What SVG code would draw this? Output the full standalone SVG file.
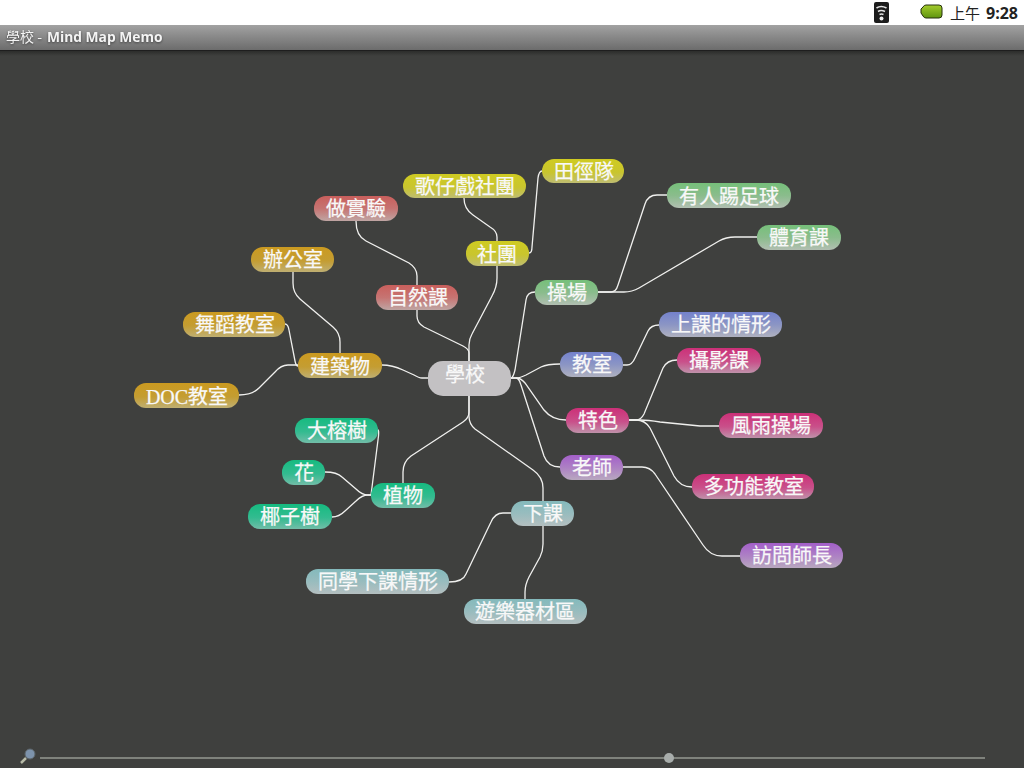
<svg xmlns="http://www.w3.org/2000/svg" width="1024" height="768" viewBox="0 0 1024 768">
<style>
text{font-family:"Noto Sans CJK TC","Noto Sans CJK SC","Liberation Sans",sans-serif}
.l{fill:#f8f8f8;font-size:20px;text-anchor:middle;stroke:#f8f8f8;stroke-width:.25}
.c path{fill:none;stroke:#f0f0ee;stroke-width:1.3}
.b{font-weight:bold;font-family:"Open Sans","Noto Sans",sans-serif}
</style>
<defs>
<linearGradient id="bar" x1="0" y1="0" x2="0" y2="1"><stop offset="0" stop-color="#a2a2a2"/><stop offset="1" stop-color="#6c6c6c"/></linearGradient>
<linearGradient id="sh" x1="0" y1="0" x2="0" y2="1"><stop offset="0" stop-color="#2c2d2b"/><stop offset="1" stop-color="#3f403e"/></linearGradient>
<linearGradient id="bat" x1="0" y1="0" x2="0" y2="1"><stop offset="0" stop-color="#a4cc2c"/><stop offset="1" stop-color="#5f9410"/></linearGradient>
<linearGradient id="gy" x1="0" y1="0" x2="0" y2="1"><stop offset="0" stop-color="#cfcb22"/><stop offset=".55" stop-color="#c9c52e"/><stop offset="1" stop-color="#bfbd72"/></linearGradient>
<linearGradient id="rd" x1="0" y1="0" x2="0" y2="1"><stop offset="0" stop-color="#c95f5c"/><stop offset=".5" stop-color="#c67472"/><stop offset="1" stop-color="#bfa5a3"/></linearGradient>
<linearGradient id="or" x1="0" y1="0" x2="0" y2="1"><stop offset="0" stop-color="#cb9a20"/><stop offset=".55" stop-color="#c49d32"/><stop offset="1" stop-color="#bfaf72"/></linearGradient>
<linearGradient id="gn" x1="0" y1="0" x2="0" y2="1"><stop offset="0" stop-color="#76c07a"/><stop offset=".5" stop-color="#8abc8c"/><stop offset="1" stop-color="#b2bfb2"/></linearGradient>
<linearGradient id="bl" x1="0" y1="0" x2="0" y2="1"><stop offset="0" stop-color="#7482cc"/><stop offset=".5" stop-color="#8b95c4"/><stop offset="1" stop-color="#afb1bf"/></linearGradient>
<linearGradient id="pk" x1="0" y1="0" x2="0" y2="1"><stop offset="0" stop-color="#cc3078"/><stop offset=".55" stop-color="#c9508a"/><stop offset="1" stop-color="#bf92aa"/></linearGradient>
<linearGradient id="pu" x1="0" y1="0" x2="0" y2="1"><stop offset="0" stop-color="#a35fc9"/><stop offset=".5" stop-color="#ad80c4"/><stop offset="1" stop-color="#b8a8bf"/></linearGradient>
<linearGradient id="tl" x1="0" y1="0" x2="0" y2="1"><stop offset="0" stop-color="#16bb80"/><stop offset=".55" stop-color="#33bb90"/><stop offset="1" stop-color="#72bda8"/></linearGradient>
<linearGradient id="cy" x1="0" y1="0" x2="0" y2="1"><stop offset="0" stop-color="#84babc"/><stop offset=".5" stop-color="#98bcbe"/><stop offset="1" stop-color="#b4bfc0"/></linearGradient>
</defs>
<rect width="1024" height="768" fill="#3f403e"/>
<rect width="1024" height="25" fill="#fff"/>
<rect y="25" width="1024" height="25" fill="url(#bar)"/>
<rect y="50" width="1024" height="1" fill="#1e1e1e"/>
<rect y="51" width="1024" height="5" fill="url(#sh)"/>
<g id="status">
<rect x="874" y="2" width="15" height="21" rx="2" fill="#1c1c1c"/>
<path d="M876.5 8q4.5-3 10 0M878 11.500q3-2 7 0M879.500 14.500q2-1 4 0" fill="none" stroke="#e4e4e4" stroke-width="1.6"/>
<circle cx="881.500" cy="18.500" r="2" fill="#f0f0f0"/>
<path d="M926 5h13q3 0 3 3v7q0 3-3 3h-13q-2 0-3-2l-2-3v-4l2-2q1-2 3-2z" fill="url(#bat)" stroke="#26300f"/>
<text x="950" y="19" font-size="15" fill="#222">上午</text>
<text x="986" y="19" font-size="16" fill="#222" class="b">9:28</text>
</g>
<g id="title" style="filter:drop-shadow(0 1px 1px #444)">
<text x="6" y="42" font-size="14" fill="#f4f4f4">學校 -</text>
<text x="47" y="42" font-size="13.800" fill="#f4f4f4" class="b">Mind Map Memo</text>
</g>
<g class="c" id="connectors">
<path d="M469 361V345Q469 339 472 334L492 296Q497 287 497 278V266"/>
<path d="M469 361V353Q469 349 463 346L424 327Q417 323 417 316V310"/>
<path d="M428 378H422Q419 378 414 375L403 370Q392 365 382 365"/>
<path d="M511 378Q513 378 515 370L526 300Q527 292 535 292"/>
<path d="M511 378H516Q520 378 526 375L541 367Q547 364 560 364"/>
<path d="M511 378H516Q521 378 525 383L544 410Q552 420 566 420"/>
<path d="M516 378Q519 378 521 385L544 456Q548 467 560 467"/>
<path d="M469 396V412Q469 418 463 422L411 456Q403 462 403 472V483"/>
<path d="M469 396V416Q469 424 475 429L533 470Q543 477 543 488V501"/>
<path d="M497 241V237Q497 231 490 227L473 215Q464 209 464 198"/>
<path d="M529 253Q532 253 532 247L538 178Q539 171 542 171"/>
<path d="M417 285V276Q417 268 409 263L366 241Q356 236 356 221"/>
<path d="M340 354V342Q340 333 333 327L300 299Q293 293 293 283V272"/>
<path d="M298 366Q296 366 295 361L289 330Q288 324 285 324"/>
<path d="M298 365H288Q281 365 275 372L259 388Q252 395 239 395"/>
<path d="M598 292H611Q616 292 618 285L645 204Q648 195 657 195H667"/>
<path d="M598 292H624Q632 292 639 288L719 241Q726 237 735 237H757"/>
<path d="M623 365H627Q632 365 635 358L648 331Q651 325 659 325"/>
<path d="M629 420H636Q641 420 644 414L663 368Q667 360 677 360"/>
<path d="M629 420H640Q648 420 660 422L700 426H719"/>
<path d="M629 420H636Q645 420 650 428L674 476Q680 487 692 487"/>
<path d="M623 467H642Q650 467 655 474L703 545Q710 556 722 556H740"/>
<path d="M378 430Q379 430 378.500 436L371 495"/>
<path d="M371 495H368Q362 495 356 489L342 477Q337 472 325 472"/>
<path d="M371 495H368Q362 495 356 501L345 511Q339 517 332 517"/>
<path d="M511 513H503Q495 513 491 522L466 574Q463 582 449 582"/>
<path d="M543 526V544Q543 551 540 557L529 577Q525 585 525 592V599"/>
</g>
<g id="root"><rect x="428" y="361" width="83" height="35" rx="15" fill="#c3c1c3"/><text x="465" y="382" class="l">學校</text></g>
<g id="n1"><rect x="466" y="241" width="63" height="25" rx="12" fill="url(#gy)"/><text x="497" y="262" class="l">社團</text></g>
<g id="n2"><rect x="403" y="174" width="123" height="24" rx="12" fill="url(#gy)"/><text x="465" y="194" class="l">歌仔戲社團</text></g>
<g id="n3"><rect x="542" y="159" width="82" height="24" rx="12" fill="url(#gy)"/><text x="584" y="179" class="l">田徑隊</text></g>
<g id="n4"><rect x="376" y="285" width="82" height="25" rx="12" fill="url(#rd)"/><text x="418" y="305" class="l">自然課</text></g>
<g id="n5"><rect x="314" y="196" width="84" height="25" rx="12" fill="url(#rd)"/><text x="356" y="216" class="l">做實驗</text></g>
<g id="n6"><rect x="298" y="353" width="84" height="25" rx="12" fill="url(#or)"/><text x="340" y="374" class="l">建築物</text></g>
<g id="n7"><rect x="251" y="247" width="83" height="25" rx="12" fill="url(#or)"/><text x="293" y="267" class="l">辦公室</text></g>
<g id="n8"><rect x="183" y="312" width="102" height="25" rx="12" fill="url(#or)"/><text x="235" y="332" class="l">舞蹈教室</text></g>
<g id="n9"><rect x="134" y="383" width="105" height="25" rx="12" fill="url(#or)"/><text x="187" y="404" class="l"><tspan font-family="'Liberation Serif',serif">DOC</tspan>教室</text></g>
<g id="n10"><rect x="535" y="280" width="63" height="25" rx="12" fill="url(#gn)"/><text x="567" y="300" class="l">操場</text></g>
<g id="n11"><rect x="667" y="183" width="124" height="25" rx="12" fill="url(#gn)"/><text x="729" y="204" class="l">有人踢足球</text></g>
<g id="n12"><rect x="757" y="225" width="84" height="25" rx="12" fill="url(#gn)"/><text x="799" y="245" class="l">體育課</text></g>
<g id="n13"><rect x="560" y="352" width="63" height="25" rx="12" fill="url(#bl)"/><text x="592" y="372" class="l">教室</text></g>
<g id="n14"><rect x="659" y="312" width="123" height="25" rx="12" fill="url(#bl)"/><text x="721" y="332" class="l">上課的情形</text></g>
<g id="n15"><rect x="566" y="408" width="63" height="25" rx="12" fill="url(#pk)"/><text x="598" y="428" class="l">特色</text></g>
<g id="n16"><rect x="677" y="348" width="84" height="25" rx="12" fill="url(#pk)"/><text x="719" y="368" class="l">攝影課</text></g>
<g id="n17"><rect x="719" y="413" width="104" height="25" rx="12" fill="url(#pk)"/><text x="771" y="433" class="l">風雨操場</text></g>
<g id="n18"><rect x="692" y="474" width="122" height="25" rx="12" fill="url(#pk)"/><text x="754" y="494" class="l">多功能教室</text></g>
<g id="n19"><rect x="560" y="455" width="63" height="25" rx="12" fill="url(#pu)"/><text x="592" y="475" class="l">老師</text></g>
<g id="n20"><rect x="740" y="543" width="103" height="25" rx="12" fill="url(#pu)"/><text x="792" y="563" class="l">訪問師長</text></g>
<g id="n21"><rect x="371" y="483" width="64" height="25" rx="12" fill="url(#tl)"/><text x="403" y="503" class="l">植物</text></g>
<g id="n22"><rect x="295" y="418" width="83" height="25" rx="12" fill="url(#tl)"/><text x="337" y="438" class="l">大榕樹</text></g>
<g id="n23"><rect x="282" y="460" width="43" height="25" rx="12" fill="url(#tl)"/><text x="304" y="480" class="l">花</text></g>
<g id="n24"><rect x="248" y="504" width="84" height="25" rx="12" fill="url(#tl)"/><text x="290" y="524" class="l">椰子樹</text></g>
<g id="n25"><rect x="511" y="501" width="63" height="25" rx="12" fill="url(#cy)"/><text x="543" y="521" class="l">下課</text></g>
<g id="n26"><rect x="306" y="569" width="143" height="25" rx="12" fill="url(#cy)"/><text x="378" y="589" class="l">同學下課情形</text></g>
<g id="n27"><rect x="464" y="599" width="123" height="25" rx="12" fill="url(#cy)"/><text x="525" y="619" class="l">遊樂器材區</text></g>
<g id="slider">
<rect x="40" y="757" width="945" height="2" fill="#7f827c"/>
<circle cx="669" cy="758" r="5" fill="#a8adab"/>
<circle cx="30" cy="754" r="5" fill="#7d93ac" stroke="#5c6468" stroke-width="1"/>
<path d="M26 758L21 763" stroke="#b8bba8" stroke-width="2.500"/>
</g>
</svg>
